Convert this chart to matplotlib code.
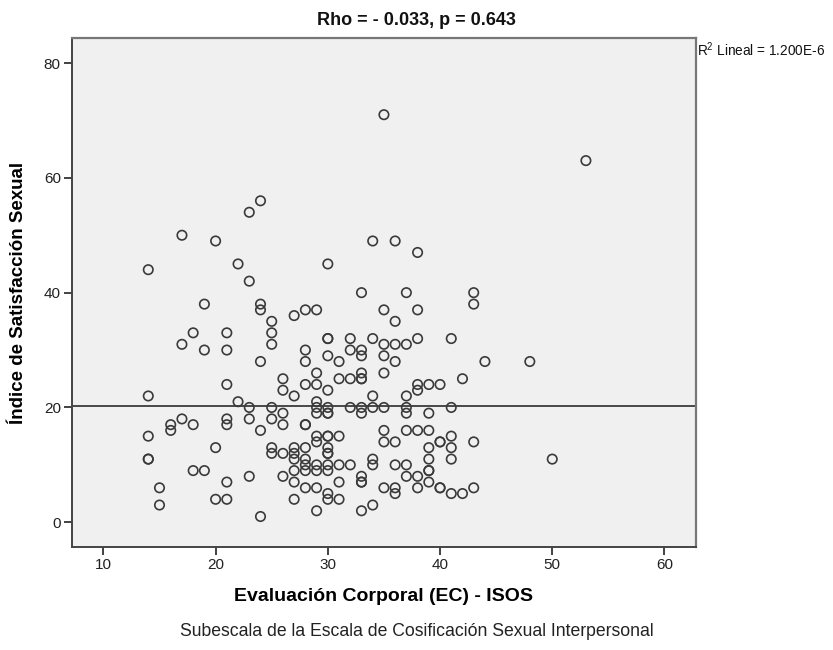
import matplotlib
matplotlib.use("Agg")
import matplotlib.pyplot as plt

plt.rcParams['font.family'] = ['Liberation Sans', 'DejaVu Sans']
plt.rcParams['mathtext.default'] = 'regular'

# Evaluación Corporal (EC) - ISOS
ec = [24, 23, 17, 20, 22, 23, 14, 19, 24, 24,
      27, 25, 25, 25, 18, 21, 17, 19, 21, 24,
      26, 26, 27, 21, 14, 22, 23, 25, 26, 17,
      16, 16, 18, 21, 21, 23, 25, 26, 24, 14,
      20, 14, 14, 25, 25, 26, 27, 27, 27, 18,
      19, 23, 26, 27, 27, 21, 15, 20, 21, 27,
      15, 24,
      28, 29, 35, 38, 43, 36,
      30, 30, 32, 34, 38, 41,
      35, 36, 37,
      28, 32, 33, 33,
      28, 30, 31, 35, 36, 44,
      29, 33, 33, 33, 35,
      28, 29, 30, 31, 32, 38, 38, 39, 40, 42,
      34, 37,
      29, 29, 29, 30, 30, 30, 32, 33, 33, 34, 35, 37, 37, 39, 41,
      28, 28,
      29, 29, 30, 30, 31, 35, 37, 38, 39, 41, 35, 36, 40, 40, 43,
      28, 30, 30, 30, 39, 41,
      28, 28, 29, 30, 31, 32, 34, 34, 36, 37, 39, 41,
      28, 29, 30, 39, 39, 33, 33, 33, 37, 38,
      31, 39,
      28, 29, 35, 36, 36, 38, 40, 40, 41, 42, 43,
      30, 30, 31,
      29, 33, 34,
      35, 34, 36, 38, 30, 33, 37, 43,
      48, 50, 53]

# Índice de Satisfacción Sexual
iss = [56, 54, 50, 49, 45, 42, 44, 38, 38, 37,
       36, 35, 33, 31, 33, 33, 31, 30, 30, 28,
       25, 23, 22, 24, 22, 21, 20, 20, 19, 18,
       17, 16, 17, 18, 17, 18, 18, 17, 16, 15,
       13, 11, 11, 13, 12, 12, 13, 12, 11, 9,
       9, 8, 8, 9, 7, 7, 6, 4, 4, 4,
       3, 1,
       37, 37, 37, 37, 38, 35,
       32, 32, 32, 32, 32, 32,
       31, 31, 31,
       30, 30, 30, 29,
       28, 29, 28, 29, 28, 28,
       26, 26, 25, 25, 26,
       24, 24, 23, 25, 25, 24, 23, 24, 24, 25,
       22, 22,
       21, 20, 19, 20, 19, 19, 20, 20, 19, 20, 20, 20, 19, 19, 20,
       17, 17,
       15, 14, 15, 15, 15, 16, 16, 16, 16, 15, 14, 14, 14, 14, 14,
       13, 13, 12, 12, 13, 13,
       11, 10, 10, 10, 10, 10, 11, 10, 10, 10, 11, 11,
       9, 9, 9, 9, 9, 8, 7, 7, 8, 8,
       7, 7,
       6, 6, 6, 6, 5, 6, 6, 6, 5, 5, 6,
       5, 4, 4,
       2, 2, 3,
       71, 49, 49, 47, 45, 40, 40, 40,
       28, 11, 63]

# linear fit as drawn (R2 ~ 0)
fit_x = [7.2, 62.8]
fit_y = [20.3, 20.3]

fig = plt.figure(figsize=(8.33, 6.5), dpi=100)
ax = fig.add_axes([0.0864, 0.159, 0.749, 0.782])
ax.set_facecolor('#f0f0f0')

ax.plot(fit_x, fit_y, color='#1a1a1a', lw=1.1, zorder=2)
ax.scatter(ec, iss, s=46, facecolors='none', edgecolors='#3a3a3a', linewidths=1.2, zorder=3)

ax.set_xlim(7.2, 62.8)
ax.set_ylim(-4.25, 84.3)
ax.set_xticks([10, 20, 30, 40, 50, 60])
ax.set_yticks([0, 20, 40, 60, 80])
ax.tick_params(axis='both', direction='out', length=6, width=1.3, color='#333333',
               labelsize=11, pad=2, labelcolor='#222222')
for side in ['left', 'bottom']:
    ax.spines[side].set_color('#444444')
    ax.spines[side].set_linewidth(1.4)
for side in ['top', 'right']:
    ax.spines[side].set_color('#777777')
    ax.spines[side].set_linewidth(1.6)

fig.text(0.5, 0.968, 'Rho = - 0.033, p = 0.643', ha='center', va='center',
         fontsize=13, fontweight='bold', color='#111111')
ax.text(1.002, 0.995, 'R$^{2}$ Lineal = 1.200E-6', transform=ax.transAxes,
        ha='left', va='top', fontsize=9.8, color='#111111')

ax.set_xlabel('Evaluación Corporal (EC) - ISOS', fontsize=14, fontweight='bold', labelpad=12)
ax.set_ylabel('Índice de Satisfacción Sexual', fontsize=13.5, fontweight='bold', labelpad=12)
fig.text(0.5, 0.028, 'Subescala de la Escala de Cosificación Sexual Interpersonal',
         ha='center', va='center', fontsize=12.7, color='#222222')

fig.savefig('out.png', dpi=100)
